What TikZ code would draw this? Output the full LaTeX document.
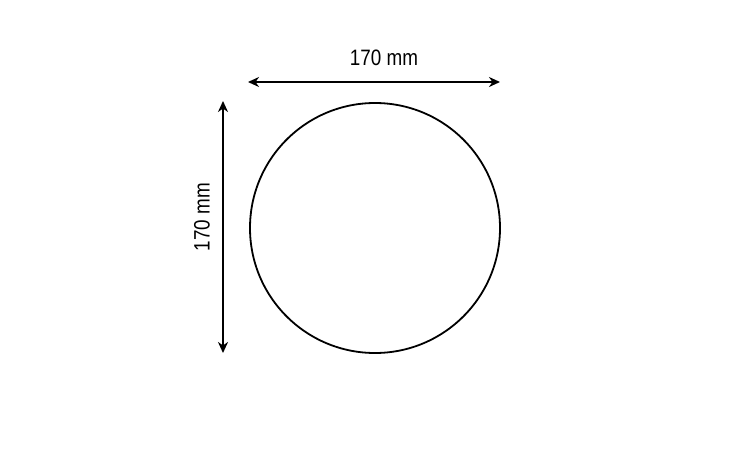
\documentclass[tikz,border=0pt]{standalone}
\usepackage{fontspec}
\setmainfont{Liberation Sans}[FakeStretch=0.845]
\usetikzlibrary{arrows.meta}
\begin{document}
\begin{tikzpicture}[x=1pt,y=-1pt,
  dim/.style={line width=2pt,{Stealth[length=11pt,width=10pt,inset=3.5pt]}-{Stealth[length=11pt,width=10pt,inset=3.5pt]}},
  lbl/.style={font=\fontsize{22.3}{25}\selectfont,inner sep=0pt}]
\useasboundingbox (0,0) rectangle (750,450);
\node[draw,circle,line width=1.8pt,minimum size=250pt,inner sep=0pt] (c) at (375,228) {};
\coordinate (hl) at (248,82);
\coordinate (hr) at (500,82);
\coordinate (vt) at (223,101);
\coordinate (vb) at (223,353);
\draw[dim] (hl) -- (hr);
\draw[dim] (vt) -- (vb);
\node[lbl] (t1) at (384,58) {170 mm};
\node[lbl,rotate=90] (t2) at (202,217) {170 mm};
\end{tikzpicture}
\end{document}
